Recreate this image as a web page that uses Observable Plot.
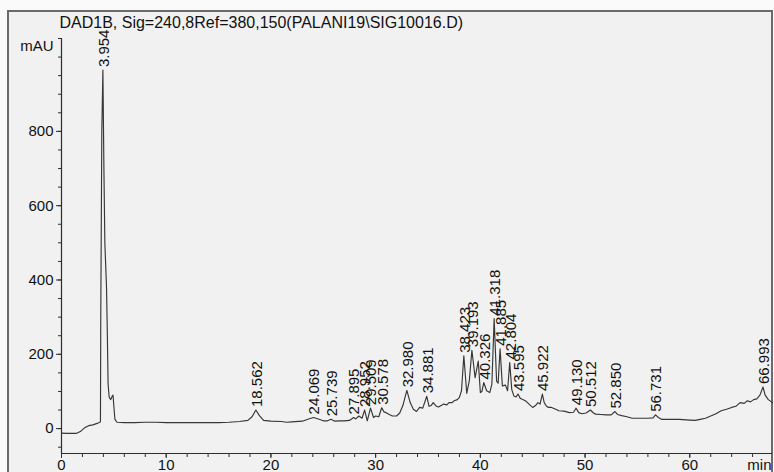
<!DOCTYPE html>
<html><head><meta charset="utf-8">
<script src="https://cdn.jsdelivr.net/npm/d3@7"></script>
<script src="https://cdn.jsdelivr.net/npm/@observablehq/plot@0.6"></script>
<style>
html,body{margin:0;padding:0;background:#fafafa;}
#wrap{position:relative;width:774px;height:472px;overflow:hidden;}
#frame{position:absolute;left:7px;top:10px;width:762px;height:470px;border:2px solid #6a6a6a;background:#f1f1f1;}
#chart{position:absolute;left:0;top:0;}
</style></head>
<body><div id="wrap"><div id="frame"></div><div id="chart"></div></div>
<script>
const chartTitle = "DAD1B, Sig=240,8Ref=380,150(PALANI19\\SIG10016.D)";
const yUnit = "mAU";
const xUnit = "min";

// trace: retention time (min) and signal (mAU)
const traceTime = [0,0.5,1.0,1.4,1.8,2.2,2.6,3.0,3.4,3.7,3.72,3.75,3.85,3.954,4.05,4.14,4.3,4.38,4.45,4.55,4.7,4.85,4.92,5.0,5.1,5.3,6,7,8,9,10,11,12,13,14,15,16,17,17.8,18.2,18.562,18.9,19.3,20,21,21.5,22,23,23.6,24.069,24.6,25.0,25.4,25.739,26.1,26.5,27.0,27.5,27.895,28.1,28.4,28.7,28.952,29.2,29.509,29.8,30.0,30.3,30.578,30.8,31.0,31.3,31.6,32.0,32.3,32.6,32.980,33.3,33.6,33.9,34.2,34.5,34.881,35.1,35.3,35.5,35.8,36.0,36.3,36.5,36.8,37.0,37.3,37.5,37.8,38.0,38.2,38.423,38.7,38.95,39.193,39.5,39.8,40.0,40.15,40.326,40.6,40.9,41.1,41.318,41.55,41.7,41.885,42.1,42.4,42.6,42.804,43.0,43.2,43.4,43.595,43.8,44.0,44.3,44.5,44.8,45.0,45.3,45.5,45.7,45.922,46.1,46.3,46.5,46.8,47.2,47.5,48.0,48.5,48.9,49.130,49.4,49.7,50.1,50.512,50.8,51.0,51.5,52.0,52.5,52.850,53.1,53.5,54.0,54.5,55,56,56.5,56.731,57.0,57.3,58,59,60,60.5,61,61.5,62,62.5,63,63.5,64,64.4,64.8,65.2,65.5,65.8,66.1,66.4,66.7,66.993,67.2,67.5,67.9];
const traceValue = [-12,-13,-13,-13,-8,2,8,10,14,18,20,300,800,965,700,500,380,250,120,85,78,88,90,60,25,17,16,16,17,17,16,16,16,16,16,16,17,19,22,32,50,35,22,20,19,17,18,20,26,30,25,21,21,25,20,21,21,22,30,26,34,28,50,21,55,30,34,32,56,45,43,38,34,34,42,62,103,70,52,46,57,55,87,60,62,70,60,58,63,66,64,70,70,75,78,84,102,196,95,130,211,137,182,97,100,124,102,97,120,296,128,122,215,115,117,102,178,105,88,85,93,82,79,75,70,62,57,63,70,66,93,70,61,57,57,52,48,47,43,44,55,43,40,42,50,42,39,38,37,37,46,38,35,32,28,28,28,29,37,30,25,25,25,23,22,25,28,34,40,48,52,57,60,70,68,75,72,78,80,90,112,90,78,70];

// labelled peaks
const peakLabels = ["3.954","18.562","24.069","25.739","27.895","28.952","29.509","30.578","32.980","34.881","38.423","39.193","40.326","41.318","41.885","42.804","43.595","45.922","49.130","50.512","52.850","56.731","66.993"];
const peakHeights = [965,50,30,25,30,50,55,56,103,87,196,211,124,296,215,178,93,93,55,50,46,37,112];

const yMajorTicks = [0,200,400,600,800];
const yMinorTicks = [-50,0,50,100,150,200,250,300,350,400,450,500,550,600,650,700,750,800,850,900,950,1000,1050];
const xMajorTicks = [0,10,20,30,40,50,60];
const xMinorTicks = [0,2,4,6,8,10,12,14,16,18,20,22,24,26,28,30,32,34,36,38,40,42,44,46,48,50,52,54,56,58,60,62,64,66];

const xDomain = [0, 67.9];
const yDomain = [-67, 1050];

const trace = traceTime.map((t, i) => ({t, v: traceValue[i]}));
const peaks = peakLabels.map((s, i) => ({t: +s, v: peakHeights[i], label: s}));

const ink = "#2e2e2e";
const chart = Plot.plot({
  width: 774,
  height: 472,
  marginLeft: 61,
  marginRight: 2,
  marginTop: 38,
  marginBottom: 19,
  style: {fontFamily: "'Liberation Sans', Arial, Helvetica, sans-serif", fontSize: "15px", background: "transparent", color: "#111", overflow: "visible"},
  x: {domain: xDomain},
  y: {domain: yDomain},
  marks: [
    Plot.axisY(yMinorTicks, {tickSize: 3, tickFormat: null, label: null, stroke: ink, text: null}),
    Plot.axisY(yMajorTicks, {tickSize: 5, tickPadding: 3, label: null, stroke: ink, fontSize: 15, fill: "#111"}),
    Plot.axisX(xMinorTicks, {tickSize: 4, tickFormat: null, label: null, stroke: ink, text: null}),
    Plot.axisX(xMajorTicks, {tickSize: 5, tickPadding: 1, label: null, stroke: ink, fontSize: 15, fill: "#111"}),
    Plot.ruleX([0], {y1: yDomain[0], y2: yDomain[1], stroke: ink, strokeWidth: 1.2}),
    Plot.ruleY([yDomain[0]], {x1: xDomain[0], x2: xDomain[1], stroke: ink, strokeWidth: 1.2}),
    Plot.line(trace, {x: "t", y: "v", stroke: "#363636", strokeWidth: 1.15, curve: "linear"}),
    Plot.text(peaks, {x: "t", y: "v", text: "label", rotate: -90, textAnchor: "start", lineAnchor: "middle", dx: 1, dy: -3, fontSize: 15, fill: "#111"}),
    Plot.text([yUnit], {frameAnchor: "top-left", textAnchor: "end", lineAnchor: "middle", dx: -8, dy: 8, fontSize: 15, fill: "#111"}),
    Plot.text([chartTitle], {frameAnchor: "top-left", textAnchor: "start", lineAnchor: "middle", dx: -2, dy: -15.5, fontSize: 16, fill: "#111"}),
    Plot.text([xUnit], {frameAnchor: "bottom-right", textAnchor: "end", lineAnchor: "top", dx: -1, dy: 6, fontSize: 15, fill: "#111"})
  ]
});
document.getElementById("chart").appendChild(chart);
</script>
</body></html>
